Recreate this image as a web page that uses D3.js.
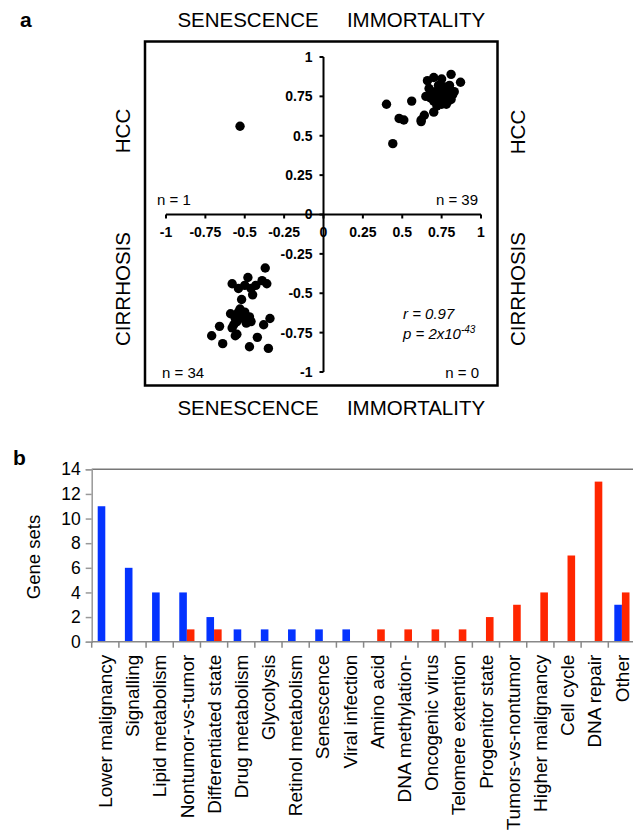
<!DOCTYPE html>
<html>
<head>
<meta charset="utf-8">
<script src="https://cdn.jsdelivr.net/npm/d3@7"></script>
<style>
  body { margin: 0; background: #fff; }
  svg { display: block; font-family: "Liberation Sans", Arial, sans-serif; }
</style>
</head>
<body>
<div id="chart"></div>
<script>
// ---- panel a data ----
const hccPoints = [
  [0.40, 0.70], [0.56, 0.72], [0.48, 0.61], [0.51, 0.60], [0.44, 0.45],
  [0.62, 0.60], [0.64, 0.63], [0.62, 0.59], [0.70, 0.65], [0.65, 0.75],
  [0.66, 0.85], [0.70, 0.87], [0.75, 0.86], [0.81, 0.89], [0.87, 0.84],
  [0.73, 0.82], [0.68, 0.74], [0.70, 0.72], [0.72, 0.76], [0.74, 0.79],
  [0.76, 0.74], [0.78, 0.77], [0.80, 0.80], [0.82, 0.76], [0.75, 0.70],
  [0.79, 0.72], [0.71, 0.78], [0.73, 0.73], [0.77, 0.81], [0.81, 0.73],
  [0.69, 0.77], [0.74, 0.75], [0.78, 0.70], [0.83, 0.78], [0.72, 0.69],
  [0.76, 0.78], [0.80, 0.82], [0.67, 0.80], [0.77, 0.74]
];
const senescentHcc = [[-0.53, 0.56]];
const cirrhosisPoints = [
  [-0.37, -0.34], [-0.48, -0.40], [-0.58, -0.44], [-0.54, -0.47], [-0.50, -0.45],
  [-0.46, -0.47], [-0.39, -0.42], [-0.36, -0.44], [-0.45, -0.51], [-0.52, -0.54],
  [-0.59, -0.63], [-0.54, -0.62], [-0.50, -0.62], [-0.52, -0.65], [-0.47, -0.65],
  [-0.46, -0.68], [-0.57, -0.70], [-0.58, -0.72], [-0.66, -0.71], [-0.71, -0.77],
  [-0.64, -0.82], [-0.55, -0.76], [-0.56, -0.77], [-0.47, -0.84], [-0.42, -0.78],
  [-0.35, -0.85], [-0.38, -0.70], [-0.34, -0.66], [-0.55, -0.68], [-0.51, -0.66],
  [-0.53, -0.60], [-0.49, -0.69], [-0.56, -0.66], [-0.43, -0.45]
];
const scatterTicks = [-1, -0.75, -0.5, -0.25, 0, 0.25, 0.5, 0.75, 1];

// ---- panel b data ----
const categories = [
  "Lower malignancy", "Signalling", "Lipid metabolism", "Nontumor-vs-tumor",
  "Differentiated state", "Drug metabolism", "Glycolysis", "Retinol metabolism",
  "Senescence", "Viral infection", "Amino acid", "DNA methylation-",
  "Oncogenic virus", "Telomere extention", "Progenitor state", "Tumors-vs-nontumor",
  "Higher malignancy", "Cell cycle", "DNA repair", "Other"
];
const senescenceSets = [11, 6, 4, 4, 2, 1, 1, 1, 1, 1, 0, 0, 0, 0, 0, 0, 0, 0, 0, 3];
const immortalitySets = [0, 0, 0, 1, 1, 0, 0, 0, 0, 0, 1, 1, 1, 1, 2, 3, 4, 7, 13, 4];
const barTicks = [0, 2, 4, 6, 8, 10, 12, 14];

const width = 633, height = 830;
const blue = "#0433ff", red = "#ff2600";

const svg = d3.select("#chart").append("svg")
  .attr("width", width)
  .attr("height", height);

svg.append("rect").attr("width", width).attr("height", height).attr("fill", "#fff");

// ================= panel a =================
const a = svg.append("g").attr("class", "panel-a");

const xS = d3.scaleLinear().domain([-1, 1]).range([166, 481]);
const yS = d3.scaleLinear().domain([-1, 1]).range([372, 57]);

a.append("rect")
  .attr("x", 145).attr("y", 41.5)
  .attr("width", 352.5).attr("height", 344)
  .attr("fill", "none")
  .attr("stroke", "#000")
  .attr("stroke-width", 2.5);

a.append("text")
  .attr("x", 20).attr("y", 27)
  .style("font-size", "21px").style("font-weight", "bold")
  .text("a");

const quadLabel = (x, y, t, rot) => {
  a.append("text")
    .attr("transform", `translate(${x},${y})` + (rot ? " rotate(-90)" : ""))
    .attr("text-anchor", "middle")
    .style("font-size", "20.5px")
    .text(t);
};
quadLabel(248, 27, "SENESCENCE");
quadLabel(416, 27, "IMMORTALITY");
quadLabel(248, 415, "SENESCENCE");
quadLabel(416, 415, "IMMORTALITY");
quadLabel(130, 131, "HCC", true);
quadLabel(130, 289, "CIRRHOSIS", true);
quadLabel(525, 132, "HCC", true);
quadLabel(525, 289, "CIRRHOSIS", true);

// tick labels
a.selectAll(".ytl")
  .data(scatterTicks)
  .join("text")
    .attr("class", "ytl")
    .attr("x", xS(0) - 11)
    .attr("y", d => yS(d))
    .attr("dy", "0.35em")
    .attr("text-anchor", "end")
    .style("font-size", "14px").style("font-weight", "bold")
    .text(d => d);

a.selectAll(".xtl")
  .data(scatterTicks)
  .join("text")
    .attr("class", "xtl")
    .attr("x", d => xS(d))
    .attr("y", yS(0) + 18)
    .attr("dy", "0.35em")
    .attr("text-anchor", "middle")
    .style("font-size", "14px").style("font-weight", "bold")
    .text(d => d);

// axes
a.append("line")
  .attr("x1", xS(-1)).attr("x2", xS(1))
  .attr("y1", yS(0)).attr("y2", yS(0))
  .attr("stroke", "#000").attr("stroke-width", 2);
a.append("line")
  .attr("x1", xS(0)).attr("x2", xS(0))
  .attr("y1", yS(1)).attr("y2", yS(-1))
  .attr("stroke", "#000").attr("stroke-width", 2);
a.selectAll(".xtk")
  .data(scatterTicks)
  .join("line")
    .attr("x1", d => xS(d)).attr("x2", d => xS(d))
    .attr("y1", yS(0)).attr("y2", yS(0) + 4)
    .attr("stroke", "#000").attr("stroke-width", 2);
a.selectAll(".ytk")
  .data(scatterTicks)
  .join("line")
    .attr("x1", xS(0) - 4).attr("x2", xS(0))
    .attr("y1", d => yS(d)).attr("y2", d => yS(d))
    .attr("stroke", "#000").attr("stroke-width", 2);

// points
a.selectAll(".dot")
  .data(hccPoints.concat(senescentHcc, cirrhosisPoints))
  .join("circle")
    .attr("class", "dot")
    .attr("cx", d => xS(d[0]))
    .attr("cy", d => yS(d[1]))
    .attr("r", 4.7)
    .attr("fill", "#000");

// n labels
const nLabel = (x, y, t, anchor) => {
  a.append("text")
    .attr("x", x).attr("y", y)
    .attr("text-anchor", anchor)
    .style("font-size", "15px")
    .text(t);
};
nLabel(157, 205, "n = 1", "start");
nLabel(478, 205, "n = 39", "end");
nLabel(162, 378, "n = 34", "start");
nLabel(479, 378, "n = 0", "end");

a.append("text")
  .attr("x", 403).attr("y", 319)
  .style("font-size", "15px").style("font-style", "italic")
  .text("r = 0.97");
const pText = a.append("text")
  .attr("x", 403).attr("y", 339)
  .style("font-size", "15px").style("font-style", "italic");
pText.append("tspan").text("p = 2x10");
pText.append("tspan")
  .attr("dy", -6)
  .style("font-size", "10px")
  .text("-43");

// ================= panel b =================
const b = svg.append("g").attr("class", "panel-b");

const x0 = d3.scaleBand().domain(categories).range([91.7, 635.5]).padding(0);
const x1 = d3.scaleBand().domain(["sen", "imm"]).range([0, x0.bandwidth()])
  .paddingInner(0).paddingOuter(0.79);
const yB = d3.scaleLinear().domain([0, 14]).range([641.7, 469.3]);

b.append("text")
  .attr("x", 13).attr("y", 465)
  .style("font-size", "21px").style("font-weight", "bold")
  .text("b");

// top frame line
b.append("line")
  .attr("x1", 91.7).attr("x2", width)
  .attr("y1", yB(14)).attr("y2", yB(14))
  .attr("stroke", "#777").attr("stroke-width", 1.5);

const yAx = b.append("g")
  .attr("transform", "translate(91.7,0)")
  .call(d3.axisLeft(yB).tickValues(barTicks).tickSize(6).tickPadding(5));
yAx.select(".domain").attr("stroke", "#999").attr("stroke-width", 1.5);
yAx.selectAll(".tick line").attr("stroke", "#999").attr("stroke-width", 1.5);
yAx.selectAll(".tick text")
  .attr("fill", "#000")
  .style("font-family", "'Liberation Sans', Arial, sans-serif")
  .style("font-size", "17.5px");

b.append("text")
  .attr("transform", "translate(40,557) rotate(-90)")
  .attr("text-anchor", "middle")
  .style("font-size", "18.5px")
  .text("Gene sets");

// bars
const rows = categories.map((c, i) => ({ cat: c, sen: senescenceSets[i], imm: immortalitySets[i] }));
const barG = b.selectAll(".cat")
  .data(rows)
  .join("g")
    .attr("class", "cat")
    .attr("transform", d => `translate(${x0(d.cat)},0)`);
barG.selectAll("rect")
  .data(d => [{ k: "sen", v: d.sen }, { k: "imm", v: d.imm }].filter(e => e.v > 0))
  .join("rect")
    .attr("x", e => x1(e.k))
    .attr("width", x1.bandwidth())
    .attr("y", e => yB(e.v))
    .attr("height", e => yB(0) - yB(e.v))
    .attr("fill", e => e.k === "sen" ? blue : red);

// x axis
b.append("line")
  .attr("x1", 91.7).attr("x2", width)
  .attr("y1", yB(0)).attr("y2", yB(0))
  .attr("stroke", "#888").attr("stroke-width", 1.5);
b.selectAll(".xtk")
  .data(categories)
  .join("line")
    .attr("class", "xtk")
    .attr("x1", d => x0(d)).attr("x2", d => x0(d))
    .attr("y1", yB(0)).attr("y2", yB(0) + 6)
    .attr("stroke", "#888").attr("stroke-width", 1.5);

b.selectAll(".xl")
  .data(categories)
  .join("text")
    .attr("class", "xl")
    .attr("transform", d => `translate(${x0(d) + x0.bandwidth() / 2},${yB(0) + 13}) rotate(-90)`)
    .attr("dy", "0.35em")
    .attr("text-anchor", "end")
    .style("font-size", "19px")
    .text(d => d);
</script>
</body>
</html>
